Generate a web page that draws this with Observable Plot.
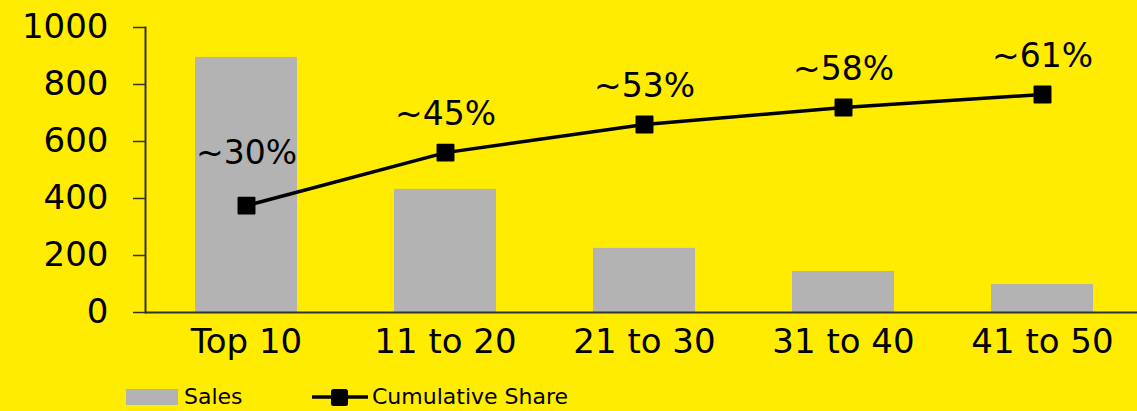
<!DOCTYPE html>
<html>
<head>
<meta charset="utf-8">
<script src="https://cdn.jsdelivr.net/npm/d3@7"></script>
<script src="https://cdn.jsdelivr.net/npm/@observablehq/plot@0.6"></script>
<style>
  html, body { margin: 0; padding: 0; background: #FFEC00; overflow: hidden; }
  body { width: 1137px; height: 411px; font-family: "DejaVu Sans", sans-serif; }
  #chart svg { display: block; background: #FFEC00; }
  #legend { position: relative; height: 39px; font-size: 22px; color: #000; }
  .item { position: absolute; top: 12px; display: flex; align-items: center; }
  .swatch { width: 52px; height: 16px; background: #B3B3B3; margin-right: 6px; }
</style>
</head>
<body>
<div id="chart"></div>
<div id="legend">
  <div class="item" style="left:126px"><div class="swatch"></div><span id="lgSales"></span></div>
  <div class="item" style="left:312px">
    <svg width="56" height="22" style="margin-right:4px"><line x1="0" x2="56" y1="11" y2="11" stroke="#000" stroke-width="3.5"/><rect x="19" y="3" width="17" height="17" rx="2.5" fill="#000"/></svg>
    <span id="lgShare"></span>
  </div>
</div>
<script>
const categories = ["Top 10", "11 to 20", "21 to 30", "31 to 40", "41 to 50"];
const sales = [895, 432, 225, 144, 98];
const cumulative = [375, 561, 660, 719, 765];
const shareLabels = ["~30%", "~45%", "~53%", "~58%", "~61%"];
const yTicks = [0, 200, 400, 600, 800, 1000];
const legendLabels = ["Sales", "Cumulative Share"];

document.getElementById("lgSales").textContent = legendLabels[0];
document.getElementById("lgShare").textContent = legendLabels[1];

const data = categories.map((c, i) => ({cat: c, sales: sales[i], cum: cumulative[i], label: shareLabels[i]}));

const chart = Plot.plot({
  width: 1137,
  height: 372,
  marginLeft: 145,
  marginRight: -7,
  marginTop: 27,
  marginBottom: 60,
  style: {background: "#FFEC00", fontFamily: "'DejaVu Sans', sans-serif", color: "#000", overflow: "hidden"},
  x: {domain: categories, paddingInner: 0.485, paddingOuter: 0.2425, align: 0.5, label: null},
  y: {domain: [0, 1000], label: null},
  marks: [
    Plot.barY(data, {x: "cat", y: "sales", fill: "#B3B3B3"}),
    Plot.axisY({ticks: yTicks, tickSize: 12, tickPadding: 25, fontSize: 34, stroke: "#333", strokeWidth: 1.5, label: null, tickFormat: d => String(d)}),
    Plot.axisX({tickSize: 0, tickPadding: 16, fontSize: 34, label: null}),
    Plot.frame({anchor: "left", stroke: "#333", strokeWidth: 2}),
    Plot.ruleY([0], {stroke: "#333", strokeWidth: 2}),
    Plot.line(data, {x: "cat", y: "cum", stroke: "#000", strokeWidth: 3.5}),
    Plot.dot(data, {x: "cat", y: "cum", symbol: "square", r: 9, fill: "#000", stroke: "#000", strokeWidth: 2, strokeLinejoin: "round"}),
    Plot.text(data.slice(0, 1), {x: "cat", y: "cum", text: "label", dy: -52, fontSize: 33, fill: "#000"}),
    Plot.text(data.slice(1), {x: "cat", y: "cum", text: "label", dy: -38, fontSize: 33, fill: "#000"})
  ]
});
document.getElementById("chart").appendChild(chart);
</script>
</body>
</html>
